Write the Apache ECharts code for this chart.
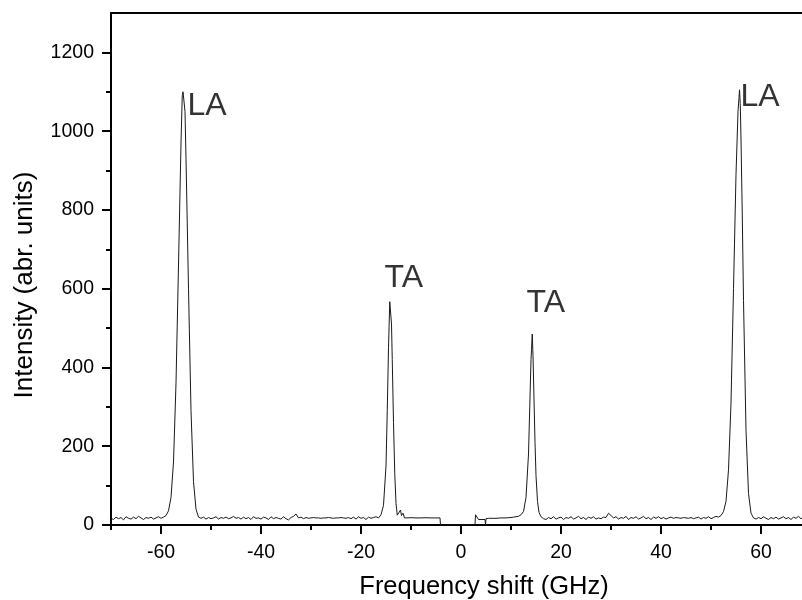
<!DOCTYPE html>
<html>
<head>
<meta charset="utf-8">
<script src="https://cdn.jsdelivr.net/npm/echarts@6/dist/echarts.min.js"></script>
<style>
  html, body { margin: 0; padding: 0; background: #fff; }
  #chart { width: 802px; height: 600px; }
</style>
</head>
<body>
<div id="chart"></div>
<script>
// spectrum pieces, [frequency shift (GHz), intensity]
const leftBaseline = [
  [-70, 17], [-69.5, 14], [-69, 20], [-68.5, 16], [-68, 19], [-67.5, 13], [-67, 21], [-66.5, 17],
  [-66, 15], [-65.5, 20], [-65, 16], [-64.5, 22], [-64, 18], [-63.5, 14], [-63, 19], [-62.5, 17],
  [-62, 20], [-61.5, 15], [-61, 18], [-60.5, 21], [-60, 17]
];
const laLeftPeak = [
  [-59.5, 20], [-59, 24], [-58.5, 36], [-58, 70], [-57.5, 160], [-57, 360], [-56.5, 660],
  [-56, 970], [-55.75, 1090], [-55.6, 1100], [-55.4, 1095], [-55.2, 1050], [-55, 930],
  [-54.5, 600], [-54, 290], [-53.5, 110], [-53, 40], [-52.5, 20]
];
const midBaseline = [
  [-52, 17], [-51.5, 20], [-51, 15], [-50.5, 19], [-50, 16], [-49.5, 18], [-49, 21], [-48.5, 15],
  [-48, 19], [-47.5, 17], [-47, 20], [-46.5, 16], [-46, 18], [-45.5, 22], [-45, 17], [-44.5, 19],
  [-44, 15], [-43.5, 20], [-43, 16], [-42.5, 19], [-42, 14], [-41.5, 21], [-41, 17], [-40.5, 18],
  [-40, 15], [-39.5, 20], [-39, 18], [-38.5, 14], [-38, 21], [-37.5, 16], [-37, 19], [-36.5, 17],
  [-36, 15], [-35.5, 21], [-35, 16], [-34.5, 13], [-34, 19], [-33.5, 22], [-33, 28], [-32.5, 18],
  [-32, 20], [-31.5, 16], [-31, 19], [-30.5, 17], [-30, 18], [-29.5, 19], [-29, 18], [-28.5, 18],
  [-28, 17], [-27.5, 18], [-27, 18], [-26.5, 19], [-26, 18], [-25.5, 17], [-25, 18], [-24.5, 18],
  [-24, 19], [-23.5, 18], [-23, 17], [-22.5, 19], [-22, 16], [-21.5, 20], [-21, 15], [-20.5, 21],
  [-20, 17], [-19.5, 19], [-19, 14], [-18.5, 20], [-18, 17], [-17.5, 19], [-17, 21]
];
const taLeftPeak = [
  [-16.5, 18], [-16, 26], [-15.5, 50], [-15, 150], [-14.75, 290], [-14.5, 450], [-14.25, 567],
  [-14.1, 562], [-13.9, 510], [-13.75, 420], [-13.5, 260], [-13.25, 130], [-13, 55], [-12.75, 25],
  [-12.4, 20], [-12.1, 38], [-11.9, 24], [-11.6, 30], [-11.3, 18]
];
const centerGap = [
  [-11, 18], [-10, 18.5], [-9, 18], [-8, 18], [-7, 18.5], [-6, 18], [-5, 18], [-4.2, 18],
  [-4.1, 0], [2.8, 0], [2.9, 26], [3.3, 24], [3.5, 14], [4, 14], [4.8, 14], [4.9, 0],
  [5, 16], [5.5, 17], [6, 17], [7, 17], [8, 18], [9, 18], [10, 19], [10.5, 20], [11, 21],
  [11.5, 22], [12, 26]
];
const taRightPeak = [
  [12.5, 34], [13, 70], [13.5, 180], [13.75, 300], [14, 420], [14.1, 445], [14.25, 485],
  [14.4, 430], [14.6, 320], [14.8, 210], [15, 125], [15.3, 60], [15.6, 32], [16, 21], [16.5, 16]
];
const rightBaseline = [
  [17, 14], [17.5, 19], [18, 16], [18.5, 21], [19, 15], [19.5, 18], [20, 20], [20.5, 14],
  [21, 19], [21.5, 17], [22, 21], [22.5, 15], [23, 18], [23.5, 22], [24, 16], [24.5, 19],
  [25, 14], [25.5, 20], [26, 17], [26.5, 21], [27, 15], [27.5, 18], [28, 16], [28.5, 20],
  [29, 19], [29.5, 30], [30, 24], [30.5, 18], [31, 21], [31.5, 15], [32, 19], [32.5, 17],
  [33, 22], [33.5, 14], [34, 19], [34.5, 17], [35, 21], [35.5, 15], [36, 18], [36.5, 22],
  [37, 16], [37.5, 19], [38, 14], [38.5, 20], [39, 17], [39.5, 21], [40, 16], [40.5, 19],
  [41, 15], [41.5, 18], [42, 20], [42.5, 17], [43, 19], [43.5, 18], [44, 17], [44.5, 19],
  [45, 18], [45.5, 17], [46, 19], [46.5, 16], [47, 18], [47.5, 20], [48, 15], [48.5, 19],
  [49, 17], [49.5, 21], [50, 16], [50.5, 19], [51, 22], [51.5, 20]
];
const laRightPeak = [
  [52, 24], [52.5, 34], [53, 60], [53.5, 140], [54, 310], [54.5, 600], [55, 890], [55.4, 1050],
  [55.6, 1085], [55.7, 1105], [55.85, 1070], [56, 980], [56.25, 790], [56.5, 570], [57, 240],
  [57.5, 80], [58, 30], [58.5, 18]
];
const farRightBaseline = [
  [59, 15], [59.5, 19], [60, 16], [60.5, 21], [61, 17], [61.5, 14], [62, 19], [62.5, 16],
  [63, 20], [63.5, 15], [64, 18], [64.5, 21], [65, 16], [65.5, 19], [66, 14], [66.5, 20],
  [67, 17], [67.5, 22], [68, 16], [68.5, 19], [69, 18], [69.5, 21], [70, 17]
];

// peak annotations
const peakNames = ['LA', 'TA', 'TA', 'LA'];
const peakLabelFreq = [-54.6, -15.2, 13.2, 56];
const peakLabelHeight = [1063, 625, 561, 1086];

// ticks
const xMajorTicks = [-60, -40, -20, 0, 20, 40, 60];
const xMinorTicks = [-70, -50, -30, -10, 10, 30, 50, 70];
const yMajorTicks = [0, 200, 400, 600, 800, 1000, 1200];
const yMinorTicks = [100, 300, 500, 700, 900, 1100];

const spectrum = [].concat(leftBaseline, laLeftPeak, midBaseline, taLeftPeak, centerGap,
  taRightPeak, rightBaseline, laRightPeak, farRightBaseline);

const font = 'Arial, "Liberation Sans", sans-serif';
const axisColor = '#000';

const chart = echarts.init(document.getElementById('chart'), null, { renderer: 'canvas' });

const option = {
  backgroundColor: '#fff',
  animation: false,
  // plot runs a little past the right edge of the picture
  grid: { left: 111, top: 13, width: 700, height: 512, outerBoundsMode: 'none' },
  xAxis: [
    {
      type: 'value', min: -70, max: 70, position: 'bottom',
      name: 'Frequency shift (GHz)', nameLocation: 'middle', nameGap: 49,
      nameTextStyle: { fontSize: 25.5, color: '#000', fontFamily: font, padding: [0, 0, 0, 46] },
      axisLine: { show: true, onZero: false, lineStyle: { color: axisColor, width: 2 } },
      axisTick: { show: true, customValues: xMajorTicks, length: 9, lineStyle: { color: axisColor, width: 2 } },
      axisLabel: {
        customValues: xMajorTicks, fontSize: 19.5, color: '#000', margin: 18, fontFamily: font,
        formatter: v => String(v)
      },
      splitLine: { show: false }
    },
    {
      // minor ticks only
      type: 'value', min: -70, max: 70, position: 'bottom',
      axisLine: { show: false, onZero: false },
      axisTick: { show: true, customValues: xMinorTicks, length: 5, lineStyle: { color: axisColor, width: 2 } },
      axisLabel: { show: false },
      splitLine: { show: false }
    },
    {
      // top frame line
      type: 'value', min: -70, max: 70, position: 'top',
      axisLine: { show: true, onZero: false, lineStyle: { color: axisColor, width: 2 } },
      axisTick: { show: false },
      axisLabel: { show: false },
      splitLine: { show: false }
    }
  ],
  yAxis: [
    {
      type: 'value', min: 0, max: 1300, position: 'left',
      name: 'Intensity (abr. units)', nameLocation: 'middle', nameGap: 73,
      nameTextStyle: { fontSize: 26, color: '#000', fontFamily: font, padding: [0, 32, 0, 0] },
      axisLine: { show: true, onZero: false, lineStyle: { color: axisColor, width: 2 } },
      axisTick: { show: true, customValues: yMajorTicks, length: 9, lineStyle: { color: axisColor, width: 2 } },
      axisLabel: {
        customValues: yMajorTicks, fontSize: 19.5, color: '#000', margin: 17, fontFamily: font,
        formatter: v => String(v)
      },
      splitLine: { show: false }
    },
    {
      type: 'value', min: 0, max: 1300, position: 'left',
      axisLine: { show: false, onZero: false },
      axisTick: { show: true, customValues: yMinorTicks, length: 5, lineStyle: { color: axisColor, width: 2 } },
      axisLabel: { show: false },
      splitLine: { show: false }
    }
  ],
  series: [
    {
      type: 'line',
      xAxisIndex: 0,
      yAxisIndex: 0,
      data: spectrum,
      showSymbol: false,
      lineStyle: { color: '#1a1a1a', width: 1 },
      clip: true,
      z: 3
    },
    {
      type: 'scatter',
      xAxisIndex: 0,
      yAxisIndex: 0,
      silent: true,
      symbolSize: 1,
      itemStyle: { color: 'rgba(0,0,0,0)' },
      data: peakNames.map((n, i) => ({ name: n, value: [peakLabelFreq[i], peakLabelHeight[i]] })),
      label: {
        show: true,
        position: [0, 0],
        align: 'left',
        verticalAlign: 'middle',
        formatter: '{b}',
        fontSize: 32,
        color: '#000',
        fontFamily: font
      },
      z: 4
    }
  ]
};

chart.setOption(option);
</script>
</body>
</html>
